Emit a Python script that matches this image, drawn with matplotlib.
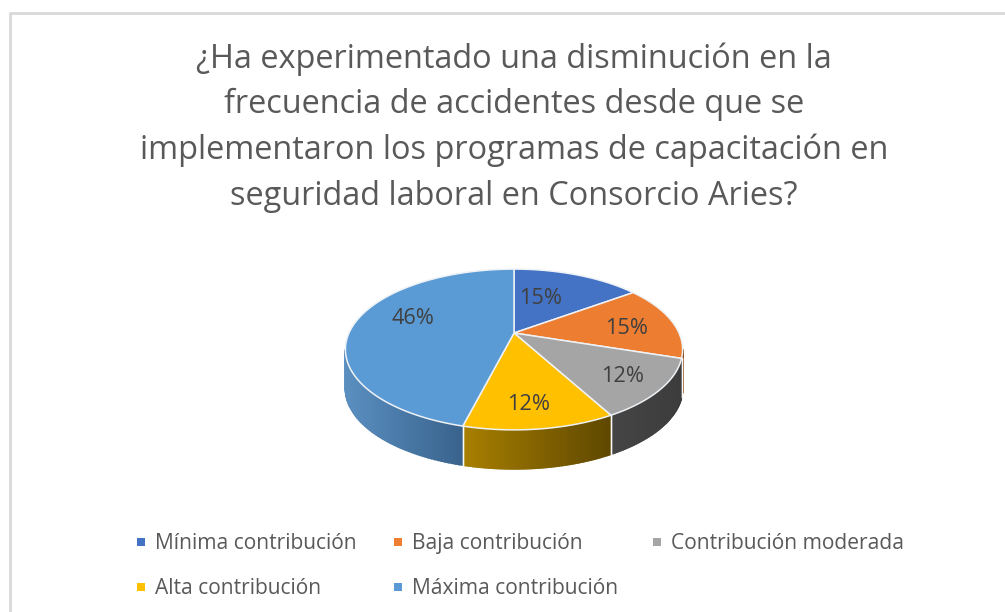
import numpy as np
import matplotlib
matplotlib.use('Agg')
import matplotlib.pyplot as plt
from matplotlib.colors import to_rgb

plt.rcParams['font.family'] = ['Open Sans', 'DejaVu Sans']

title_lines = ['¿Ha experimentado una disminución en la',
               'frecuencia de accidentes desde que se',
               'implementaron los programas de capacitación en',
               'seguridad laboral en Consorcio Aries?']
categories = ['Mínima contribución', 'Baja contribución', 'Contribución moderada',
              'Alta contribución', 'Máxima contribución']
values = [15, 15, 12, 12, 46]

colors = ['#4472C4', '#ED7D31', '#A5A5A5', '#FFC000', '#5B9BD5']
# wall gradient, left end then right end
wall_left = ['#2c4a80', '#8f4a1c', '#454545', '#a87f00', '#5a8fc0']
wall_right = ['#2c4a80', '#8f4a1c', '#3c3c3c', '#5e4700', '#38628c']

# pie placement in pixels
cx, cy = 514, 333
rx, ry, persp = 165, 77, 0.205
depth = 39
title_y = [68, 113, 159, 205]
label_pos = [(541, 298), (627, 329), (623, 377), (529, 405), (413, 318)]
legend_pos = [(141, 549), (398, 549), (657, 549), (141, 594), (398, 594)]


def project(t):
    # t is clockwise from the top, in radians
    x, y = np.sin(t), np.cos(t)
    w = 1 + persp * y
    return cx + rx * x / w, cy - ry * y / w


fig = plt.figure(figsize=(10.05, 6.12), dpi=100)
ax = fig.add_axes([0, 0, 1, 1])
ax.set_xlim(0, 1005)
ax.set_ylim(612, 0)
ax.axis('off')

# frame is only visible on the top and left
ax.plot([9.5, 9.5, 1005], [612, 12.5, 12.5], color='#d9d9d9', lw=2)

for i, line in enumerate(title_lines):
    ax.text(514, title_y[i], line, ha='center', va='baseline',
            fontsize=23.4, color='#595959')

ends = np.cumsum(values) / sum(values) * 2 * np.pi
starts = np.r_[0, ends[:-1]]
front_a = np.pi / 2 + np.arcsin(persp)
front_b = 3 * np.pi / 2 - np.arcsin(persp)

# side walls
for i in range(len(values)):
    a, b = max(starts[i], front_a), min(ends[i], front_b)
    if b <= a:
        continue
    ts = np.linspace(a, b, 60)
    xs, ys = project(ts)
    lo, hi = xs.min(), xs.max()
    for j in range(len(ts) - 1):
        f = ((xs[j] + xs[j + 1]) / 2 - lo) / (hi - lo)
        c = (1 - f) * np.array(to_rgb(wall_left[i])) + f * np.array(to_rgb(wall_right[i]))
        px = [xs[j], xs[j + 1], xs[j + 1], xs[j]]
        py = [ys[j], ys[j + 1], ys[j + 1] + depth, ys[j] + depth]
        ax.fill(px, py, color=c, lw=1.2, zorder=2)
    for t in (a, b):
        if front_a < t < front_b:
            x0, y0 = project(t)
            ax.plot([x0, x0], [y0, y0 + depth], color='white', lw=1, alpha=0.85, zorder=3)

# top surface
for i in range(len(values)):
    ts = np.linspace(starts[i], ends[i], 120)
    xs, ys = project(ts)
    ax.fill(np.r_[cx, xs], np.r_[cy, ys], facecolor=colors[i], edgecolor='#eef2f6',
            lw=1.1, joinstyle='round', zorder=4)
    ax.text(label_pos[i][0], label_pos[i][1], f'{values[i]}%', ha='center', va='center',
            fontsize=15.7, color='#404040', zorder=5)

# legend
for i, name in enumerate(categories):
    lx, ly = legend_pos[i]
    ax.plot(lx, ly - 7, marker='s', ms=5.5, color=colors[i], mew=0, ls='none')
    ax.text(lx + 14, ly, name, ha='left', va='baseline', fontsize=15.1, color='#595959')

fig.savefig('out.png', dpi=100)
